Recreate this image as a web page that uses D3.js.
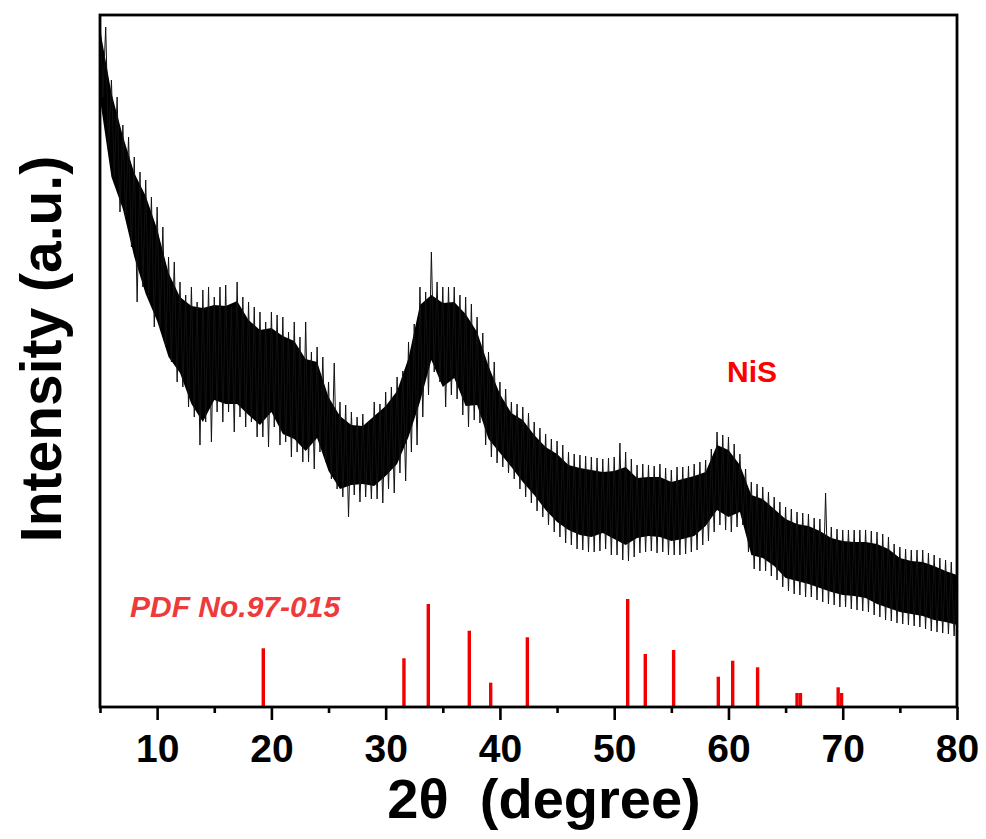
<!DOCTYPE html>
<html>
<head>
<meta charset="utf-8">
<script src="https://cdn.jsdelivr.net/npm/d3@7"></script>
<style>
  body { margin: 0; background: #fff; }
  text { font-family: "Liberation Sans", Arial, sans-serif; font-weight: bold; }
</style>
</head>
<body>
<div id="xrd"></div>
<script>
// scan: 2theta from 5 to 80 deg, one reading every 0.25 deg
var scanStart = 5,
    scanStep = 0.25;

var intensity = [
  692, 610, 680, 560,   // 5
  627, 530, 610, 495,   // 6
  582, 490, 570, 460,   // 7
  550, 405, 535, 420,   // 8
  527, 410, 510, 380,   // 9
  500, 380, 480, 360,   // 10
  450, 345, 445, 325,   // 11
  425, 320, 412, 300,   // 12
  420, 290, 405, 262,   // 13
  417, 285, 420, 265,   // 14
  410, 295, 420, 285,   // 15
  422, 295, 400, 275,   // 16
  425, 290, 410, 280,   // 17
  405, 285, 400, 270,   // 18
  395, 270, 385, 260,   // 19
  395, 280, 392, 262,   // 20
  390, 265, 375, 250,   // 21
  385, 255, 370, 245,   // 22
  385, 245, 355, 238,   // 23
  360, 255, 350, 245,   // 24
  325, 228, 344, 218,   // 25
  305, 210, 302, 190,   // 26
  295, 212, 290, 205,   // 27
  293, 210, 285, 208,   // 28
  305, 208, 303, 204,   // 29
  315, 218, 320, 214,   // 30
  330, 234, 336, 226,   // 31
  365, 255, 383, 262,   // 32
  420, 290, 415, 312,   // 33
  455, 335, 425, 325,   // 34
  420, 300, 420, 312,   // 35
  420, 308, 412, 292,   // 36
  410, 280, 403, 287,   // 37
  390, 284, 374, 262,   // 38
  355, 250, 345, 244,   // 39
  325, 240, 318, 234,   // 40
  305, 228, 303, 218,   // 41
  300, 210, 294, 204,   // 42
  285, 196, 279, 190,   // 43
  273, 182, 268, 175,   // 44
  266, 170, 262, 164,   // 45
  255, 162, 253, 158,   // 46
  252, 157, 251, 155,   // 47
  250, 155, 249, 156,   // 48
  248, 158, 249, 152,   // 49
  250, 152, 264, 147,   // 50
  255, 146, 248, 150,   // 51
  242, 154, 243, 155,   // 52
  242, 156, 241, 154,   // 53
  243, 155, 239, 152,   // 54
  237, 152, 240, 152,   // 55
  240, 153, 241, 155,   // 56
  243, 157, 245, 162,   // 57
  247, 166, 258, 175,   // 58
  275, 182, 272, 177,   // 59
  270, 175, 263, 180,   // 60
  253, 182, 238, 155,   // 61
  225, 138, 223, 136,   // 62
  220, 136, 215, 131,   // 63
  210, 127, 205, 120,   // 64
  200, 116, 198, 113,   // 65
  195, 112, 194, 110,   // 66
  193, 110, 189, 107,   // 67
  188, 105, 214, 103,   // 68
  180, 102, 178, 100,   // 69
  177, 100, 177,  98,   // 70
  177,  97, 177,  96,   // 71
  177,  95, 176,  92,   // 72
  175,  90, 173,  87,   // 73
  170,  86, 163,  84,   // 74
  160,  83, 158,  82,   // 75
  157,  81, 157,  80,   // 76
  157,  78, 154,  76,   // 77
  152,  75, 149,  74,   // 78
  147,  73, 145,  71,   // 79
  143                   // 80
];

// dense core of the noise band, one reading per degree (5..80)
var coreDeg = d3.range(5, 81);
var coreTop = [
  678, 614, 571, 534, 511, 478, 434, 410, 401, 399,   // 5-14
  402, 401, 406, 387, 377, 379, 371, 366, 348, 345,   // 15-24
  310, 291, 282, 281, 291, 301, 316, 349, 402, 412,   // 25-34
  404, 405, 393, 375, 341, 313, 294, 287, 272, 260,   // 35-44
  253, 242, 239, 237, 235, 236, 240, 229, 230, 230,   // 45-54
  225, 228, 231, 235, 262, 257, 242, 212, 208, 198,   // 55-64
  188, 183, 181, 176, 169, 166, 165, 165, 163, 158,   // 65-74
  149, 146, 145, 141, 136, 132                        // 75-80
];
var coreBottom = [
  608, 530, 498, 450, 413, 386, 350, 334, 303, 285,   // 5-14
  307, 303, 303, 292, 282, 295, 273, 268, 256, 269,   // 15-24
  236, 218, 222, 223, 221, 231, 243, 270, 305, 347,   // 25-34
  320, 329, 301, 302, 268, 254, 240, 225, 212, 197,   // 35-44
  185, 177, 172, 170, 174, 168, 162, 169, 171, 170,   // 45-54
  166, 168, 171, 181, 197, 190, 195, 152, 149, 141,   // 55-64
  129, 126, 123, 119, 115, 112, 111, 109, 103,  99,   // 65-74
   95,  93,  91,  87,  85,  82                        // 75-80
];

// PDF No.97-015 reference lines
var refPeaks   = [19.29, 31.6, 33.73, 37.32, 39.19, 42.4, 51.18, 52.72, 55.2, 59.11, 60.37, 62.55, 66.0, 66.3, 69.6, 69.9];
var refHeights = [58.7, 48.7, 103, 76.3, 24.3, 69.7, 108, 53, 57, 30.3, 46.3, 39.7, 14, 14, 19.7, 14];

var xTicks = [10, 20, 30, 40, 50, 60, 70, 80],
    xMinorTicks = [5, 15, 25, 35, 45, 55, 65, 75];

var width = 986,
    height = 839,
    margin = {top: 15, right: 29, bottom: 132, left: 100};

var x = d3.scaleLinear().domain([5, 80]).range([margin.left, width - margin.right]);
var y = d3.scaleLinear().domain([0, 692]).range([height - margin.bottom, margin.top]);

var svg = d3.select("#xrd")
  .append("svg")
  .attr("width", width)
  .attr("height", height);

svg.append("clipPath")
  .attr("id", "plotclip")
  .append("rect")
  .attr("x", margin.left)
  .attr("y", margin.top)
  .attr("width", x(80) - x(5))
  .attr("height", y(0) - y(692));

// measured pattern: dark core + spiky trace
var band = d3.area()
  .x(function(d) { return x(d); })
  .y0(function(d, i) { return y(coreBottom[i]); })
  .y1(function(d, i) { return y(coreTop[i]); });

svg.append("path")
  .datum(coreDeg)
  .attr("clip-path", "url(#plotclip)")
  .attr("fill", "#000")
  .attr("d", band);

var line = d3.line()
  .x(function(d, i) { return x(scanStart + i * scanStep); })
  .y(function(d) { return y(d); });

svg.append("path")
  .datum(intensity)
  .attr("clip-path", "url(#plotclip)")
  .attr("fill", "none")
  .attr("stroke", "#111")
  .attr("stroke-width", 1)
  .attr("d", line);

// reference sticks
svg.selectAll(null)
  .data(refPeaks)
  .enter().append("line")
  .attr("x1", function(d) { return x(d); })
  .attr("x2", function(d) { return x(d); })
  .attr("y1", y(0))
  .attr("y2", function(d, i) { return y(refHeights[i]); })
  .attr("stroke", "#f20000")
  .attr("stroke-width", 3.4);

// bottom axis: major + minor ticks
var xAxis = d3.axisBottom(x)
  .tickValues(xTicks)
  .tickSize(13)
  .tickPadding(14)
  .tickFormat(d3.format("d"));

var gx = svg.append("g")
  .attr("transform", "translate(0," + y(0) + ")")
  .call(xAxis);
gx.select(".domain").remove();
gx.selectAll(".tick line").attr("stroke", "#000").attr("stroke-width", 2.6);
gx.selectAll(".tick text")
  .attr("fill", "#000")
  .style("font-size", "39px")
  .style("font-family", "'Liberation Sans', Arial, sans-serif")
  .style("font-weight", "bold");

var gxMinor = svg.append("g")
  .attr("transform", "translate(0," + y(0) + ")")
  .call(d3.axisBottom(x).tickValues(xMinorTicks).tickSize(6).tickFormat(""));
gxMinor.select(".domain").remove();
gxMinor.selectAll(".tick line").attr("stroke", "#000").attr("stroke-width", 2.6);

// frame
svg.append("rect")
  .attr("x", x(5))
  .attr("y", y(692))
  .attr("width", x(80) - x(5))
  .attr("height", y(0) - y(692))
  .attr("fill", "none")
  .attr("stroke", "#000")
  .attr("stroke-width", 2.8);

// axis titles
svg.append("text")
  .attr("x", 544)
  .attr("y", 818)
  .attr("text-anchor", "middle")
  .style("font-size", "56px")
  .attr("xml:space", "preserve")
  .text("2\u03b8  (degree)");

svg.append("text")
  .attr("transform", "translate(61,349) rotate(-90)")
  .attr("text-anchor", "middle")
  .style("font-size", "57px")
  .text("Intensity (a.u.)");

// labels
svg.append("text")
  .attr("x", 130)
  .attr("y", 617)
  .attr("fill", "#ee3a3a")
  .style("font-size", "30px")
  .style("font-style", "italic")
  .text("PDF No.97-015");

svg.append("text")
  .attr("x", 727)
  .attr("y", 382)
  .attr("fill", "#f00")
  .style("font-size", "30px")
  .text("NiS");
</script>
</body>
</html>
